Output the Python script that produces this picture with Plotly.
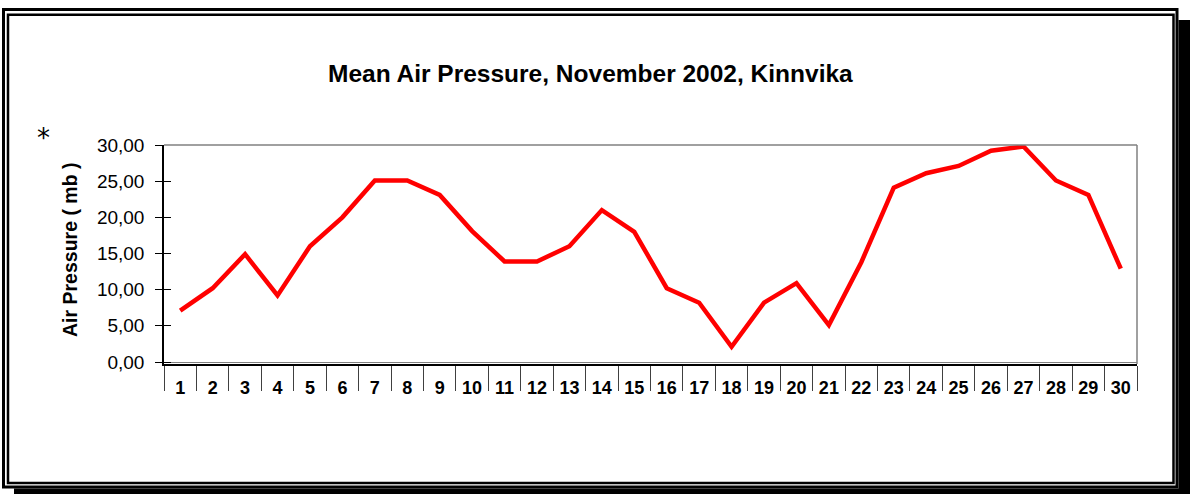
import plotly.graph_objects as go

# ---- data ----
days = [str(d) for d in range(1, 31)]
pressure = [7.1, 10.2, 14.9, 9.2, 16.0, 20.0, 25.1, 25.1, 23.1, 18.1,
            13.9, 13.9, 16.0, 21.0, 18.0, 10.2, 8.2, 2.1, 8.2, 10.9,
            5.1, 13.8, 24.1, 26.1, 27.1, 29.2, 29.8, 25.1, 23.1, 12.9]
y_tick_vals = [0, 5, 10, 15, 20, 25, 30]
y_tick_text = ["0,00", "5,00", "10,00", "15,00", "20,00", "25,00", "30,00"]
title_text = "Mean Air Pressure, November 2002, Kinnvika"
y_title = "Air Pressure ( mb )"

# ---- geometry (pixels) ----
W, H = 1190, 494
L, R, T, B = 164, 1137, 145, 364
FONT = "Liberation Sans, Arial, sans-serif"


def X(px):
    return (px - L) / (R - L)


def Y(py):
    return (B - py) / (B - T)


y_bottom = -(B - 362) / (217 / 30)

fig = go.Figure()
fig.add_trace(go.Scatter(x=days, y=pressure, mode="lines",
                         line=dict(color="#ff0000", width=4.5),
                         showlegend=False, hoverinfo="x+y"))
fig.add_trace(go.Scatter(x=days, y=pressure, mode="lines", yaxis="y2",
                         line=dict(color="rgba(0,0,0,0)", width=0),
                         showlegend=False, hoverinfo="skip"))

fig.update_layout(
    width=W, height=H,
    margin=dict(l=L, r=W - R, t=T, b=H - B, pad=0),
    paper_bgcolor="white", plot_bgcolor="white",
    separators=",.",
    font=dict(family=FONT, color="black"),
    xaxis=dict(type="category", categoryorder="array", categoryarray=days,
               range=[-0.5, 29.5], tickson="boundaries",
               ticks="outside", ticklen=25, tickcolor="#404040", tickwidth=1,
               showline=True, linecolor="black", linewidth=1.5,
               showgrid=False, zeroline=False,
               tickfont=dict(family=FONT, size=18, color="black", weight="bold"),
               ticklabelstandoff=7),
    yaxis=dict(range=[y_bottom, 30], tickvals=y_tick_vals, ticktext=y_tick_text,
               ticks="outside", ticklen=7, tickcolor="black", tickwidth=1,
               showline=True, linecolor="black", linewidth=1.5,
               showgrid=False, zeroline=True, zerolinecolor="#808080",
               zerolinewidth=1,
               tickfont=dict(family=FONT, size=19, color="black"),
               ticklabelstandoff=7),
    yaxis2=dict(range=[y_bottom, 30], overlaying="y", side="left",
                tickvals=y_tick_vals, ticks="inside", ticklen=7,
                tickcolor="black", tickwidth=1, showticklabels=False,
                showline=False, showgrid=False, zeroline=False),
)

shapes = []
# plot area border (top and right, grey)
shapes.append(dict(type="line", xref="paper", yref="paper",
                   x0=X(L), x1=X(R), y0=Y(T), y1=Y(T),
                   line=dict(color="#808080", width=1.5)))
shapes.append(dict(type="line", xref="paper", yref="paper",
                   x0=X(R), x1=X(R), y0=Y(T), y1=Y(B),
                   line=dict(color="#808080", width=1.5)))
# outer frame
shapes.append(dict(type="rect", xref="paper", yref="paper",
                   x0=X(3.5), x1=X(1177), y0=Y(9.5), y1=Y(487),
                   line=dict(color="black", width=3)))
# inner frame
shapes.append(dict(type="rect", xref="paper", yref="paper",
                   x0=X(8), x1=X(1173.5), y0=Y(14.8), y1=Y(483),
                   line=dict(color="black", width=2.5)))
# shadow right & bottom
shapes.append(dict(type="rect", xref="paper", yref="paper",
                   x0=X(1178.5), x1=X(1190), y0=Y(20), y1=Y(494),
                   fillcolor="black", line=dict(width=0)))
shapes.append(dict(type="rect", xref="paper", yref="paper",
                   x0=X(14), x1=X(1190), y0=Y(488.5), y1=Y(494),
                   fillcolor="black", line=dict(width=0)))
fig.update_layout(shapes=shapes)

annotations = [
    dict(text=title_text, xref="paper", yref="paper", x=X(590), y=Y(73),
         xanchor="center", yanchor="middle", showarrow=False,
         font=dict(family=FONT, size=24.5, color="black", weight="bold")),
    dict(text=y_title, xref="paper", yref="paper", x=X(70), y=Y(250),
         xanchor="center", yanchor="middle", showarrow=False, textangle=-90,
         font=dict(family=FONT, size=19.5, color="black", weight="bold")),
    dict(text="*", xref="paper", yref="paper", x=X(43), y=Y(138),
         xanchor="center", yanchor="middle", showarrow=False,
         font=dict(family="DejaVu Sans, sans-serif", size=26, color="black")),
]
fig.update_layout(annotations=annotations)

fig.write_html("out.html",
               config={"displayModeBar": False},
               post_script="document.body.style.margin='0';"
                           "document.body.style.overflow='hidden';")
